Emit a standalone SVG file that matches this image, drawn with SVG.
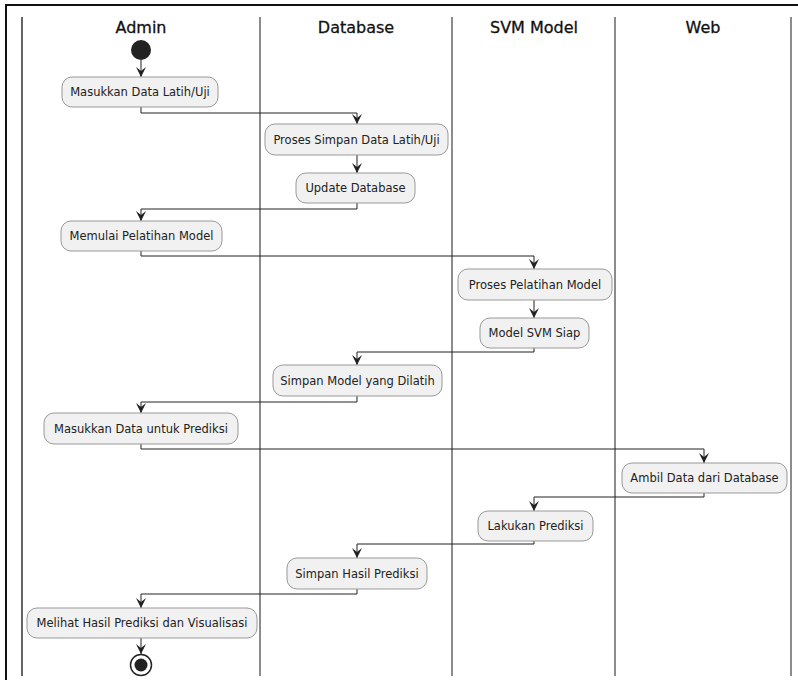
<svg xmlns="http://www.w3.org/2000/svg" width="798" height="680" viewBox="0 0 798 680">
<defs>
<style>
.lane{stroke:#666;stroke-width:1.5;fill:none}
.title{font-family:"DejaVu Sans",sans-serif;font-size:16px;font-weight:normal;fill:#111;text-anchor:middle;stroke:#111;stroke-width:0.3}
.node rect{fill:#f1f1f1;stroke:#999;stroke-width:1}
.node text{font-family:"DejaVu Sans",sans-serif;font-size:11.5px;fill:#222;text-anchor:middle}
.edge{stroke:#222;stroke-width:1;fill:none;marker-end:url(#arr)}
</style>
<marker id="arr" viewBox="0 0 10 10" refX="10" refY="5" markerWidth="10" markerHeight="10" markerUnits="userSpaceOnUse" orient="auto">
<path d="M0,0 L10,5 L0,10 L4,5 Z" fill="#222"/>
</marker>
</defs>
<rect x="0" y="0" width="798" height="680" fill="#fff"/>
<g id="frame">
<path d="M6,680 L6,5 L798,5" stroke="#111" stroke-width="2" fill="none"/>
</g>
<g id="lanes">
<line class="lane" x1="22" y1="17" x2="22" y2="676" style="stroke:#333"/>
<line class="lane" x1="260" y1="17" x2="260" y2="676"/>
<line class="lane" x1="452" y1="17" x2="452" y2="676"/>
<line class="lane" x1="615" y1="17" x2="615" y2="676"/>
<line class="lane" x1="791" y1="17" x2="791" y2="676"/>
<text class="title" x="141" y="33">Admin</text>
<text class="title" x="356" y="33">Database</text>
<text class="title" x="534" y="33">SVM Model</text>
<text class="title" x="703" y="33">Web</text>
</g>
<g id="connectors">
<path class="edge" d="M141,60 L141,77"/>
<path class="edge" d="M141,107 L141,113 L357,113 L357,124"/>
<path class="edge" d="M357,155 L357,173"/>
<path class="edge" d="M357,203 L357,209 L141,209 L141,221"/>
<path class="edge" d="M141,251 L141,256 L534,256 L534,269"/>
<path class="edge" d="M534,300 L534,318"/>
<path class="edge" d="M534,348 L534,352 L357,352 L357,365"/>
<path class="edge" d="M357,396 L357,402 L141,402 L141,413"/>
<path class="edge" d="M141,444 L141,449 L704,449 L704,463"/>
<path class="edge" d="M704,493 L704,497 L534,497 L534,511"/>
<path class="edge" d="M534,541 L534,544 L357,544 L357,558"/>
<path class="edge" d="M357,589 L357,594 L141,594 L141,608"/>
<path class="edge" d="M141,638 L141,654"/>
</g>
<g id="start"><circle cx="141" cy="50" r="10" fill="#222"/></g>
<g id="n1" class="node"><rect x="62" y="77" width="156" height="30" rx="10"/><text x="140" y="96">Masukkan Data Latih/Uji</text></g>
<g id="n2" class="node"><rect x="265" y="124" width="183" height="31" rx="10"/><text x="356.5" y="143.5">Proses Simpan Data Latih/Uji</text></g>
<g id="n3" class="node"><rect x="296" y="173" width="119" height="30" rx="10"/><text x="355.5" y="192">Update Database</text></g>
<g id="n4" class="node"><rect x="61" y="221" width="161" height="30" rx="10"/><text x="141.5" y="240">Memulai Pelatihan Model</text></g>
<g id="n5" class="node"><rect x="458" y="269" width="154" height="31" rx="10"/><text x="535" y="288.5">Proses Pelatihan Model</text></g>
<g id="n6" class="node"><rect x="480" y="318" width="109" height="30" rx="10"/><text x="534.5" y="337">Model SVM Siap</text></g>
<g id="n7" class="node"><rect x="273" y="365" width="169" height="31" rx="10"/><text x="357.5" y="384.5">Simpan Model yang Dilatih</text></g>
<g id="n8" class="node"><rect x="44" y="413" width="194" height="31" rx="10"/><text x="141" y="432.5">Masukkan Data untuk Prediksi</text></g>
<g id="n9" class="node"><rect x="622" y="463" width="165" height="30" rx="10"/><text x="704.5" y="482">Ambil Data dari Database</text></g>
<g id="n10" class="node"><rect x="478" y="511" width="115" height="30" rx="10"/><text x="535.5" y="530">Lakukan Prediksi</text></g>
<g id="n11" class="node"><rect x="287" y="558" width="140" height="31" rx="10"/><text x="357" y="577.5">Simpan Hasil Prediksi</text></g>
<g id="n12" class="node"><rect x="27" y="608" width="230" height="30" rx="10"/><text x="142" y="627">Melihat Hasil Prediksi dan Visualisasi</text></g>
<g id="end"><circle cx="141" cy="665" r="10.5" fill="#fff" stroke="#222" stroke-width="1.5"/><circle cx="141" cy="665" r="6.5" fill="#222"/></g>
</svg>
